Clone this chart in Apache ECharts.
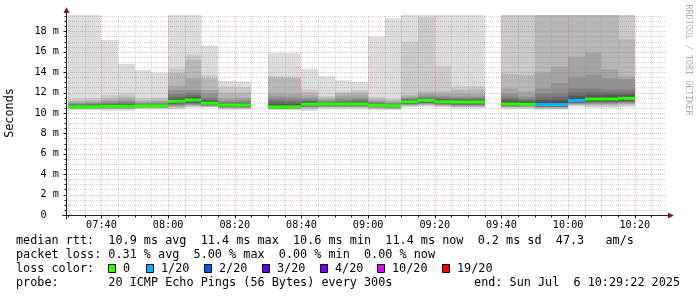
<!DOCTYPE html>
<html><head><meta charset="utf-8">
<script src="https://cdn.jsdelivr.net/npm/echarts@6/dist/echarts.min.js"></script>
<style>html,body{margin:0;padding:0;background:#fff}#c{width:697px;height:297px}</style>
</head><body><div id="c"></div>
<script>
// ---------- data ----------
const slotStarts = ['07:30','07:35','07:40','07:45','07:50','07:55','08:00','08:05','08:10','08:15','08:20','08:25',
  '08:30','08:35','08:40','08:45','08:50','08:55','09:00','09:05','09:10','09:15','09:20','09:25','09:30','09:35',
  '09:40','09:45','09:50','09:55','10:00','10:05','10:10','10:15'];
const slotMinutes = 5;
const medians = [10.6,10.6,10.65,10.65,10.7,10.7,11.15,11.27,10.95,10.77,10.77,null,
  10.6,10.6,10.85,10.88,10.88,10.88,10.75,10.7,11.1,11.24,11.1,11.07,11.07,null,
  10.88,10.85,10.83,10.83,11.22,11.37,11.37,11.44];
const lossCounts = [0,0,0,0,0,0,0,0,0,0,0,null,0,0,0,0,0,0,0,0,0,0,0,0,0,null,0,0,1,1,1,0,0,0];
const pings = [
  [10.3,10.38,10.42,10.44,10.46,10.48,10.5,10.52,10.55,10.58,10.62,10.67,10.72,10.78,10.85,10.95,11.05,11.2,11.4,20],
  [10.3,10.38,10.42,10.44,10.46,10.48,10.5,10.52,10.55,10.58,10.62,10.66,10.72,10.8,10.9,11.0,11.1,11.25,11.45,20],
  [10.22,10.35,10.4,10.44,10.47,10.5,10.52,10.55,10.58,10.62,10.68,10.73,10.8,10.88,10.98,11.1,11.25,11.45,11.75,17.15],
  [10.22,10.35,10.4,10.44,10.47,10.5,10.52,10.55,10.58,10.62,10.68,10.74,10.82,10.92,11.05,11.2,11.4,11.6,11.93,14.8],
  [10.35,10.45,10.5,10.54,10.56,10.58,10.6,10.63,10.65,10.68,10.72,10.75,10.78,10.83,10.9,10.98,11.1,11.25,11.45,14.2],
  [10.35,10.45,10.5,10.54,10.56,10.58,10.6,10.63,10.65,10.68,10.72,10.76,10.8,10.86,10.93,11.02,11.15,11.3,11.5,13.95],
  [10.35,10.45,10.55,10.65,10.72,10.8,10.88,10.95,11.02,11.1,11.2,11.3,11.45,11.6,11.85,12.25,12.65,13.9,14.35,20],
  [10.5,10.6,10.68,10.75,10.82,10.88,10.95,11.05,11.15,11.22,11.32,11.42,11.55,11.75,12.0,12.25,13.4,15.2,15.7,20],
  [10.55,10.58,10.62,10.66,10.7,10.74,10.78,10.82,10.87,10.92,10.99,11.05,11.15,11.3,11.5,11.9,12.25,13.4,13.7,16.6],
  [10.3,10.4,10.46,10.5,10.54,10.57,10.6,10.64,10.68,10.72,10.78,10.82,10.87,10.95,11.05,11.2,11.45,12.0,12.6,13.15],
  [10.3,10.4,10.46,10.5,10.54,10.57,10.6,10.64,10.68,10.72,10.78,10.82,10.88,10.96,11.08,11.25,11.5,12.0,12.55,13.1],
  null,
  [10.28,10.35,10.4,10.42,10.44,10.46,10.48,10.5,10.52,10.55,10.68,10.8,10.95,11.15,11.35,11.6,11.9,13.5,13.6,15.85],
  [10.28,10.35,10.4,10.42,10.44,10.46,10.48,10.5,10.52,10.55,10.67,10.78,10.92,11.1,11.3,11.55,11.85,13.45,13.6,15.85],
  [10.2,10.35,10.45,10.52,10.58,10.63,10.68,10.72,10.77,10.82,10.9,10.97,11.05,11.15,11.3,11.45,11.7,12.0,12.3,14.3],
  [10.38,10.48,10.55,10.6,10.64,10.68,10.72,10.76,10.8,10.85,10.91,10.95,11.0,11.05,11.12,11.22,11.35,11.5,11.67,13.6],
  [10.38,10.48,10.55,10.6,10.64,10.68,10.72,10.76,10.8,10.85,10.91,10.96,11.03,11.12,11.25,11.45,11.7,11.95,12.1,13.2],
  [10.38,10.48,10.55,10.6,10.64,10.68,10.72,10.76,10.8,10.85,10.91,10.97,11.05,11.15,11.3,11.5,11.75,12.0,12.25,13.04],
  [10.3,10.38,10.45,10.5,10.55,10.58,10.62,10.65,10.68,10.72,10.78,10.82,10.88,10.95,11.02,11.12,11.25,11.4,11.55,17.5],
  [10.28,10.36,10.42,10.46,10.5,10.54,10.57,10.6,10.63,10.67,10.72,10.76,10.8,10.85,10.92,11.0,11.1,11.25,11.4,19.28],
  [10.56,10.65,10.72,10.78,10.82,10.86,10.9,10.94,10.98,11.05,11.13,11.18,11.24,11.3,11.38,11.48,11.6,11.76,17.0,20],
  [10.6,10.7,10.78,10.85,10.9,10.95,11.0,11.05,11.12,11.2,11.27,11.32,11.38,11.45,11.55,11.7,11.9,12.1,19.4,20],
  [10.55,10.62,10.7,10.75,10.8,10.85,10.9,10.95,11.0,11.05,11.14,11.2,11.3,11.4,11.5,11.65,11.85,12.1,14.6,20],
  [10.45,10.55,10.6,10.66,10.72,10.78,10.84,10.9,10.97,11.03,11.1,11.17,11.25,11.35,11.45,11.6,11.85,12.25,12.6,20],
  [10.45,10.55,10.6,10.66,10.72,10.78,10.84,10.9,10.97,11.03,11.1,11.17,11.25,11.35,11.45,11.6,11.85,12.3,12.62,20],
  null,
  [10.4,10.48,10.55,10.6,10.64,10.68,10.72,10.76,10.8,10.85,10.94,11.05,11.2,11.4,11.6,11.9,12.4,13.8,20,20],
  [10.4,10.48,10.55,10.6,10.64,10.68,10.72,10.76,10.8,10.82,10.9,11.0,11.1,11.25,11.4,11.6,12.1,13.7,20,20],
  [10.32,10.4,10.47,10.52,10.56,10.6,10.64,10.68,10.72,10.78,10.9,11.05,11.25,11.5,11.9,12.4,13.95,20,20,20],
  [10.32,10.4,10.47,10.52,10.56,10.6,10.64,10.68,10.72,10.78,10.92,11.08,11.3,11.6,11.95,12.9,14.5,20,20,20],
  [10.6,10.7,10.78,10.84,10.9,10.95,11.0,11.05,11.1,11.15,11.3,11.45,11.7,12.0,12.4,13.55,15.5,20,20,20],
  [10.5,10.62,10.75,10.85,10.92,11.0,11.08,11.15,11.22,11.3,11.45,11.6,11.8,12.05,12.4,13.7,15.9,20,20,20],
  [10.5,10.62,10.75,10.85,10.92,11.0,11.08,11.15,11.22,11.3,11.45,11.6,11.8,12.0,12.3,13.4,14.3,20,20,20],
  [10.55,10.7,10.82,10.92,11.0,11.08,11.15,11.22,11.3,11.38,11.5,11.62,11.8,12.0,12.3,13.3,13.56,17.2,20,20]
];
const endTime = '10:29:22';
const spanMinutes = 180;
const yMax = 19.6;
const timeTicks = ['07:40','08:00','08:20','08:40','09:00','09:20','09:40','10:00','10:20'];
const yTickValues = [0,2,4,6,8,10,12,14,16,18];
const yTickLabels = ['0  ','2 m','4 m','6 m','8 m','10 m','12 m','14 m','16 m','18 m'];
const lossLegendLabels = ['0','1/20','2/20','3/20','4/20','10/20','19/20'];
const lossLegendCounts = [0,1,2,3,4,10,19];
const lossColors = ['#26ff00','#00b8ff','#0059ff','#5e00ff','#7e00ff','#dd00ff','#ff0000'];
const rttStats = ['10.9','11.4','10.6','11.4','0.2','47.3'];
const lossStats = ['0.31','5.00','0.00','0.00'];
const probeText = '20 ICMP Echo Pings (56 Bytes) every 300s';
const endText = 'Sun Jul  6 10:29:22 2025';

// ---------- helpers ----------
const toMin = s => { const p = s.split(':').map(Number); return p[0]*60 + p[1] + (p[2]||0)/60; };
const xMax = toMin(endTime);
const xMin = xMax - spanMinutes;
const MONO = '"DejaVu Sans Mono", monospace';
function lossColor(n) {
  let idx = 0;
  for (let i = 0; i < lossLegendCounts.length; i++) if (n >= lossLegendCounts[i]) idx = i;
  return lossColors[idx];
}

const smokeData = [], medianData = [];
slotStarts.forEach((s, i) => {
  if (!pings[i]) return;
  const t0 = toMin(s), t1 = t0 + slotMinutes;
  smokeData.push([t0, t1].concat(pings[i]));
  medianData.push([t0, t1, medians[i], lossCounts[i]]);
});

function renderSmoke(params, api) {
  const x0 = Math.round(api.coord([api.value(0), 0])[0]);
  const x1 = Math.round(api.coord([api.value(1), 0])[0]);
  const children = [];
  for (let k = 1; k <= 10; k++) {
    const lo = api.value(1 + k), hi = api.value(22 - k);
    const yLo = api.coord([0, lo])[1], yHi = api.coord([0, hi])[1];
    const g = Math.floor(190 / 10 * (10 - k)) + 50;
    children.push({type: 'rect', shape: {x: x0, y: yHi, width: x1 - x0, height: yLo - yHi},
      style: {fill: 'rgb(' + g + ',' + g + ',' + g + ')'}});
  }
  return {type: 'group', children};
}
function renderMedian(params, api) {
  const x0 = Math.round(api.coord([api.value(0), 0])[0]);
  const x1 = Math.round(api.coord([api.value(1), 0])[0]);
  const y = api.coord([0, api.value(2)])[1];
  return {type: 'rect', shape: {x: x0, y: y - 1.5, width: x1 - x0, height: 3},
    style: {fill: lossColor(api.value(3))}};
}
function renderGrid(params, api) {
  const ch = [];
  const left = api.coord([xMin, 0])[0], right = api.coord([xMax, 0])[0];
  const bottom = api.coord([xMin, 0])[1], top = api.coord([xMin, yMax])[1];
  const minor = {stroke: 'rgba(143,143,143,0.4)', lineWidth: 1, lineDash: [1, 1]};
  const major = {stroke: 'rgba(222,79,79,0.42)', lineWidth: 1, lineDash: [1, 1]};
  const L = (x1, y1, x2, y2, st) => ch.push({type: 'line', shape: {x1, y1, x2, y2}, style: st});
  const majorT = timeTicks.map(toMin);
  // horizontal
  for (let i = 1; i * 0.5 < yMax; i++) {
    const v = i * 0.5;
    const y = Math.round(api.coord([xMin, v])[1]) + 0.5;
    const isMajor = yTickValues.indexOf(v) >= 0;
    L(left, y, right, y, isMajor ? major : minor);
    const lx = Math.round(left) + 0.5;
    L(lx - (isMajor ? 3 : 2), y, lx, y, {stroke: '#1f1f1f', lineWidth: 1});
  }
  // vertical
  for (let t = Math.ceil(xMin / slotMinutes) * slotMinutes; t < xMax; t += slotMinutes) {
    const x = Math.round(api.coord([t, 0])[0]) + 0.5;
    const isMajor = majorT.indexOf(t) >= 0;
    L(x, bottom, x, top, isMajor ? major : minor);
    const by = Math.round(bottom) + 0.5;
    L(x, by, x, by + (isMajor ? 3 : 2), {stroke: '#1f1f1f', lineWidth: 1});
  }
  // x labels
  timeTicks.forEach(s => {
    const x = api.coord([toMin(s), 0])[0];
    ch.push({type: 'text', x: x, y: bottom + 10,
      style: {text: s, fontFamily: MONO, fontSize: 10.2, fill: '#000', align: 'center', verticalAlign: 'middle'}});
  });
  // axes
  const ax = Math.round(left) + 0.5, ay = Math.round(bottom) + 0.5;
  L(ax - 4, ay, right + 2, ay, {stroke: '#1f1f1f', lineWidth: 1});
  L(ax, ay + 4, ax, top - 2, {stroke: '#1f1f1f', lineWidth: 1});
  const arrow = '#801f1f';
  ch.push({type: 'polygon', shape: {points: [[right + 2, ay - 3], [right + 8, ay], [right + 2, ay + 3]]}, style: {fill: arrow}});
  ch.push({type: 'polygon', shape: {points: [[ax - 3, top - 2], [ax, top - 8], [ax + 3, top - 2]]}, style: {fill: arrow}});
  return {type: 'group', children: ch};
}

// ---------- legend graphics ----------
const lines = [
  'median rtt:  ' + rttStats[0] + ' ms avg  ' + rttStats[1] + ' ms max  ' + rttStats[2] + ' ms min  ' +
    rttStats[3] + ' ms now  ' + rttStats[4] + ' ms sd  ' + rttStats[5] + '   am/s',
  'packet loss: ' + lossStats[0] + ' % avg  ' + lossStats[1] + ' % max  ' + lossStats[2] + ' % min  ' + lossStats[3] + ' % now',
  'loss color:',
  'probe:       ' + probeText
];
const lineY = [241, 255, 269, 283];
const FS = 11.8;
const txt = (x, y, s, align) => ({type: 'text', x: x, y: y, silent: true,
  style: {text: s, fontFamily: MONO, fontSize: FS, fill: '#000', align: align || 'left', verticalAlign: 'middle'}});
const graphics = lines.map((s, i) => txt(16, lineY[i], s));
graphics.push(txt(680, 283, 'end: ' + endText, 'right'));
const boxX = [108, 146, 204, 262, 320, 377, 442];
lossLegendLabels.forEach((lab, i) => {
  graphics.push({type: 'rect', shape: {x: boxX[i] + 0.5, y: 264.5, width: 7, height: 8},
    style: {fill: lossColors[i], stroke: '#000', lineWidth: 1}});
  graphics.push(txt(boxX[i] + 15, 269, lab));
});
graphics.push({type: 'text', x: 10, y: 113, rotation: Math.PI / 2,
  style: {text: 'Seconds', fontFamily: MONO, fontSize: FS, fill: '#000', align: 'center', verticalAlign: 'middle'}});
graphics.push({type: 'text', x: 688, y: 60, rotation: -Math.PI / 2,
  style: {text: 'RRDTOOL / TOBI OETIKER', fontFamily: MONO, fontSize: 8.4, fill: '#b0b0b0', align: 'center', verticalAlign: 'middle'}});

const chart = echarts.init(document.getElementById('c'), null, {renderer: 'canvas', width: 697, height: 297});
chart.setOption({
  animation: false,
  backgroundColor: '#ffffff',
  grid: {left: 66, right: 31, top: 15, bottom: 82},
  xAxis: {type: 'value', min: xMin, max: xMax, show: true,
    axisLine: {show: false}, axisTick: {show: false}, axisLabel: {show: false}, splitLine: {show: false}},
  yAxis: {type: 'value', min: 0, max: yMax, interval: 2,
    axisLine: {show: false}, axisTick: {show: false}, splitLine: {show: false},
    axisLabel: {margin: 7, color: '#000', fontFamily: MONO, fontSize: 10.2,
      formatter: v => { const i = yTickValues.indexOf(v); return i >= 0 ? yTickLabels[i] : ''; }}},
  graphic: graphics,
  series: [
    {type: 'custom', name: 'smoke', renderItem: renderSmoke, data: smokeData, clip: true, z: 2,
      encode: {x: [0, 1], y: 21}, silent: true},
    {type: 'custom', name: 'grid', renderItem: renderGrid, data: [[xMin, 0]], clip: false, z: 3, silent: true},
    {type: 'custom', name: 'median', renderItem: renderMedian, data: medianData, clip: true, z: 4,
      encode: {x: [0, 1], y: 2}, silent: true}
  ]
});
</script></body></html>
